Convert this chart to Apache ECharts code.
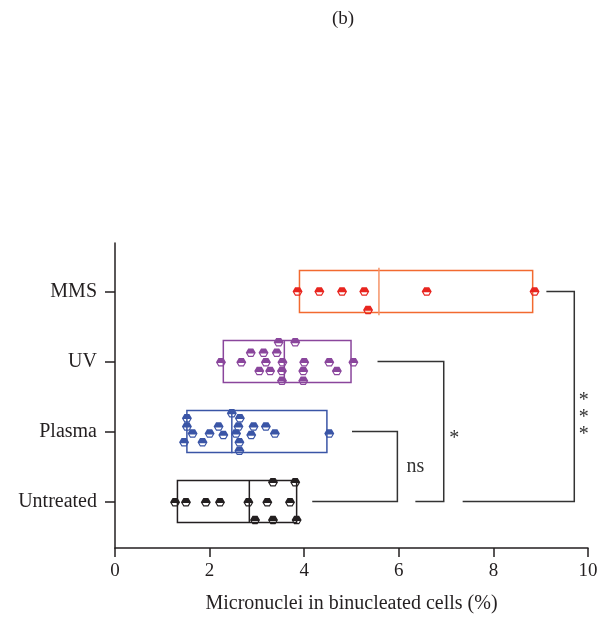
<!DOCTYPE html>
<html>
<head>
<meta charset="utf-8">
<script src="https://cdn.jsdelivr.net/npm/echarts@6/dist/echarts.min.js"></script>
<style>html,body{margin:0;padding:0;background:#fff}#c{width:601px;height:620px}</style>
</head>
<body>
<div id="c"></div>
<script>
// ---- data ----
const categories = ['Untreated', 'Plasma', 'UV', 'MMS'];
const xTicks = [0, 2, 4, 6, 8, 10];

const untreatedValues = [1.27, 1.50, 1.92, 2.22, 2.82, 3.22, 3.70, 3.34, 3.81, 2.96, 3.34, 3.84];
const untreatedJitter = [0.01, 0.01, 0.01, 0.01, 0.01, 0.01, 0.01, -0.275, -0.275, 0.265, 0.265, 0.265];

const plasmaValues = [2.47, 1.52, 2.64, 2.61, 2.19, 2.93, 3.19, 1.52, 1.64, 2.00, 2.29, 2.56, 2.88, 3.38, 4.53, 1.46, 1.85, 2.63, 2.63];
const plasmaJitter = [-0.26, -0.19, -0.19, -0.07, -0.07, -0.07, -0.07, -0.07, 0.03, 0.03, 0.05, 0.03, 0.05, 0.03, 0.03, 0.155, 0.155, 0.155, 0.274];

const uvValues = [2.24, 2.67, 2.87, 3.14, 3.42, 3.46, 3.81, 3.19, 3.54, 4.00, 4.53, 5.04, 3.05, 3.28, 3.53, 3.98, 4.69, 3.53, 3.98];
const uvJitter = [0.01, 0.01, -0.126, -0.126, -0.126, -0.274, -0.274, 0.01, 0.01, 0.01, 0.01, 0.01, 0.136, 0.136, 0.136, 0.136, 0.136, 0.274, 0.274];

const mmsValues = [3.86, 4.32, 4.80, 5.27, 6.59, 8.87, 5.35];
const mmsJitter = [0, 0, 0, 0, 0, 0, 0.264];

// box: [low, median, high]
const untreatedBox = [1.32, 2.84, 3.84];
const plasmaBox = [1.52, 2.47, 4.48];
const uvBox = [2.29, 3.58, 4.99];
const mmsBox = [3.90, 5.58, 8.83];

// significance brackets: [xStart, rowFrom, xVertical, rowTo, xEnd]
const bracketNs = [5.01, 2, 5.97, 1, 4.17];
const bracketUv = [5.55, 3, 6.95, 1, 6.35];
const bracketMms = [9.12, 4, 9.71, 1, 7.35];
const annotTexts = ['ns', '*', '*\n*\n*'];
const annotPos = [[6.35, 1.50], [7.17, 1.90], [9.91, 2.195]];

// ---- styles ----
const FONT = 'Liberation Serif';
const TXT = '#231f20';
const groups = [
  {values: untreatedValues, jitter: untreatedJitter, box: untreatedBox, dot: '#231f20', line: '#231f20', med: '#231f20', medExt: 0.3},
  {values: plasmaValues, jitter: plasmaJitter, box: plasmaBox, dot: '#3a55a6', line: '#3a55a6', med: '#3a55a6', medExt: 0.31},
  {values: uvValues, jitter: uvJitter, box: uvBox, dot: '#8a469c', line: '#8a469c', med: '#8a469c', medExt: 0.3},
  {values: mmsValues, jitter: mmsJitter, box: mmsBox, dot: '#e8251f', line: '#f26a30', med: '#f59368', medExt: 0.34}
];
const BOX_HALF = 0.3;
const marker = 'path://M2.5 0 L7.5 0 L10 4 L7.5 8 L2.5 8 L0 4 Z M1.8 4.8 L3.1 6.8 L6.9 6.8 L8.2 4.8 Z';

const series = [];
groups.forEach((g, idx) => {
  const row = idx + 1;
  series.push({
    type: 'custom',
    z: 2,
    silent: true,
    encode: {x: [1, 2, 3], y: 0},
    data: [[row, g.box[0], g.box[1], g.box[2]]],
    renderItem: function (params, api) {
      const y = api.value(0);
      const a = api.coord([api.value(1), y + BOX_HALF]);
      const b = api.coord([api.value(3), y - BOX_HALF]);
      const m1 = api.coord([api.value(2), y + g.medExt]);
      const m2 = api.coord([api.value(2), y - g.medExt]);
      return {
        type: 'group',
        children: [
          {type: 'rect', shape: {x: a[0], y: a[1], width: b[0] - a[0], height: b[1] - a[1]},
           style: {fill: 'none', stroke: g.line, lineWidth: 1.5}},
          {type: 'line', shape: {x1: m1[0], y1: m1[1], x2: m2[0], y2: m2[1]},
           style: {stroke: g.med, lineWidth: 1.5}}
        ]
      };
    }
  });
  series.push({
    type: 'scatter',
    z: 5,
    symbol: marker,
    symbolSize: [10, 8.5],
    itemStyle: {color: g.dot, opacity: 1},
    data: g.values.map((v, i) => [v, row - g.jitter[i]])
  });
});

series.push({
  type: 'custom',
  silent: true,
  z: 3,
  encode: {x: [0, 2, 4], y: [1, 3]},
  data: [bracketNs, bracketUv, bracketMms],
  renderItem: function (params, api) {
    const p1 = api.coord([api.value(0), api.value(1)]);
    const p2 = api.coord([api.value(2), api.value(1)]);
    const p3 = api.coord([api.value(2), api.value(3)]);
    const p4 = api.coord([api.value(4), api.value(3)]);
    return {type: 'polyline', shape: {points: [p1, p2, p3, p4]},
      style: {fill: 'none', stroke: '#333333', lineWidth: 1.5}};
  }
});

series.push({
  type: 'custom',
  silent: true,
  z: 3,
  encode: {x: 0, y: 1},
  data: annotPos,
  renderItem: function (params, api) {
    const p = api.coord([api.value(0), api.value(1)]);
    const t = annotTexts[params.dataIndex];
    return {type: 'text', x: p[0], y: p[1],
      style: {text: t, fill: '#333333', font: '20px "' + FONT + '"', align: 'center', verticalAlign: 'middle', lineHeight: 17}};
  }
});

const chart = echarts.init(document.getElementById('c'), null, {renderer: 'canvas'});
chart.setOption({
  animation: false,
  backgroundColor: '#ffffff',
  title: {text: '(b)', left: 343, top: 10, textAlign: 'center', padding: 0,
    textStyle: {fontFamily: FONT, fontSize: 19, fontWeight: 'normal', color: TXT}},
  grid: {left: 115, right: 13, top: 243, bottom: 72, containLabel: false, outerBoundsMode: 'none'},
  xAxis: {
    type: 'value', min: xTicks[0], max: xTicks[xTicks.length - 1], interval: 2,
    name: 'Micronuclei in binucleated cells (%)', nameLocation: 'middle', nameGap: 46,
    nameTextStyle: {fontFamily: FONT, fontSize: 20, color: TXT},
    axisLine: {lineStyle: {color: TXT, width: 1.5}},
    axisTick: {length: 9, lineStyle: {color: TXT, width: 1.5}},
    axisLabel: {fontFamily: FONT, fontSize: 19, color: TXT, margin: 14},
    splitLine: {show: false}
  },
  yAxis: {
    type: 'value', min: 0.336, max: 4.693,
    axisLine: {show: true, lineStyle: {color: TXT, width: 1.5}},
    axisTick: {show: true, length: 10, customValues: [1, 2, 3, 4], lineStyle: {color: TXT, width: 1.5}},
    axisLabel: {customValues: [1, 2, 3, 4], fontFamily: FONT, fontSize: 20, color: TXT, margin: 18,
      formatter: v => categories[Math.round(v) - 1] || ''},
    splitLine: {show: false}
  },
  series: series
});
</script>
</body>
</html>
